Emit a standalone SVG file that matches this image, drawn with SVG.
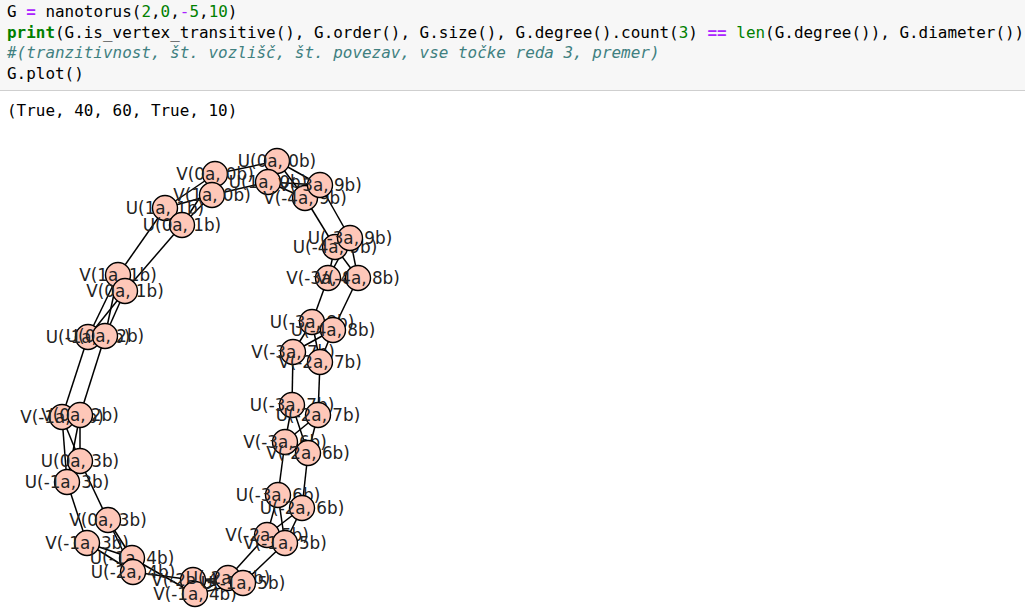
<svg xmlns="http://www.w3.org/2000/svg" width="1025" height="612" viewBox="0 0 1025 612">
<style>
.code{font-family:"DejaVu Sans Mono","Liberation Mono",monospace;font-size:15.95px;fill:#000;white-space:pre}
.k{fill:#008000;font-weight:bold}
.o{fill:#aa22ff;font-weight:bold}
.n{fill:#008000}
.b{fill:#008000}
.c{fill:#408080;font-style:italic}
.edges line{stroke:#000;stroke-width:1.5}
.node circle{fill:#fec7b8;stroke:#000;stroke-width:1.4}
.node text{font-family:"DejaVu Sans",sans-serif;font-size:16.8px;fill:#222;text-anchor:middle}
</style>
<rect x="0" y="0" width="1025" height="612" fill="#fff"/>
<rect x="0" y="0" width="1025" height="90" fill="#f7f7f7"/>
<line x1="0" y1="90.5" x2="1025" y2="90.5" stroke="#cfcfcf" stroke-width="1"/>
<g id="code">
<text class="code" x="7" y="17">G <tspan class="o">=</tspan> nanotorus(<tspan class="n">2</tspan>,<tspan class="n">0</tspan>,<tspan class="o" style="font-weight:normal">-</tspan><tspan class="n">5</tspan>,<tspan class="n">10</tspan>)</text>
<text class="code" x="7" y="38"><tspan class="k">print</tspan>(G.is_vertex_transitive(), G.order(), G.size(), G.degree().count(<tspan class="n">3</tspan>) <tspan class="o">==</tspan> <tspan class="b">len</tspan>(G.degree()), G.diameter())</text>
<text class="code c" x="7" y="58">#(tranzitivnost, št. vozlišč, št. povezav, vse točke reda 3, premer)</text>
<text class="code" x="7" y="79">G.plot()</text>
<text class="code" x="7" y="116">(True, 40, 60, True, 10)</text>
</g>
<g id="connectors" class="edges">
<line x1="277" y1="161" x2="215" y2="174"/>
<line x1="268" y1="182" x2="212" y2="195"/>
<line x1="165" y1="208" x2="118" y2="275"/>
<line x1="182" y1="225" x2="125" y2="291"/>
<line x1="88" y1="337" x2="62" y2="417"/>
<line x1="105" y1="336" x2="80" y2="415"/>
<line x1="80" y1="461" x2="108" y2="520"/>
<line x1="67" y1="482" x2="87" y2="543"/>
<line x1="132" y1="558" x2="195" y2="594"/>
<line x1="133" y1="572" x2="193" y2="580"/>
<line x1="228" y1="578" x2="267" y2="535"/>
<line x1="243" y1="583" x2="285" y2="543"/>
<line x1="278" y1="495" x2="285" y2="442"/>
<line x1="302" y1="508" x2="308" y2="453"/>
<line x1="292" y1="405" x2="293" y2="352"/>
<line x1="318" y1="415" x2="320" y2="362"/>
<line x1="312" y1="322" x2="328" y2="278"/>
<line x1="333" y1="330" x2="358" y2="278"/>
<line x1="335" y1="247" x2="305" y2="198"/>
<line x1="350" y1="238" x2="320" y2="185"/>
<line x1="215" y1="174" x2="165" y2="208"/>
<line x1="215" y1="174" x2="182" y2="225"/>
<line x1="212" y1="195" x2="165" y2="208"/>
<line x1="212" y1="195" x2="182" y2="225"/>
<line x1="118" y1="275" x2="88" y2="337"/>
<line x1="118" y1="275" x2="105" y2="336"/>
<line x1="125" y1="291" x2="88" y2="337"/>
<line x1="125" y1="291" x2="105" y2="336"/>
<line x1="62" y1="417" x2="80" y2="461"/>
<line x1="62" y1="417" x2="67" y2="482"/>
<line x1="80" y1="415" x2="80" y2="461"/>
<line x1="80" y1="415" x2="67" y2="482"/>
<line x1="108" y1="520" x2="132" y2="558"/>
<line x1="108" y1="520" x2="133" y2="572"/>
<line x1="87" y1="543" x2="132" y2="558"/>
<line x1="87" y1="543" x2="133" y2="572"/>
<line x1="193" y1="580" x2="228" y2="578"/>
<line x1="193" y1="580" x2="243" y2="583"/>
<line x1="195" y1="594" x2="228" y2="578"/>
<line x1="195" y1="594" x2="243" y2="583"/>
<line x1="267" y1="535" x2="278" y2="495"/>
<line x1="267" y1="535" x2="302" y2="508"/>
<line x1="285" y1="543" x2="278" y2="495"/>
<line x1="285" y1="543" x2="302" y2="508"/>
<line x1="285" y1="442" x2="292" y2="405"/>
<line x1="285" y1="442" x2="318" y2="415"/>
<line x1="308" y1="453" x2="292" y2="405"/>
<line x1="308" y1="453" x2="318" y2="415"/>
<line x1="293" y1="352" x2="312" y2="322"/>
<line x1="293" y1="352" x2="333" y2="330"/>
<line x1="320" y1="362" x2="312" y2="322"/>
<line x1="320" y1="362" x2="333" y2="330"/>
<line x1="328" y1="278" x2="335" y2="247"/>
<line x1="328" y1="278" x2="350" y2="238"/>
<line x1="358" y1="278" x2="335" y2="247"/>
<line x1="358" y1="278" x2="350" y2="238"/>
<line x1="305" y1="198" x2="277" y2="161"/>
<line x1="305" y1="198" x2="268" y2="182"/>
<line x1="320" y1="185" x2="277" y2="161"/>
<line x1="320" y1="185" x2="268" y2="182"/>
</g>
<g id="n-U0a0b" class="node"><circle cx="277" cy="161" r="12.5"/><text x="277" y="167">U(0a, 0b)</text></g>
<g id="n-U1a0b" class="node"><circle cx="268" cy="182" r="12.5"/><text x="268" y="188">U(1a, 0b)</text></g>
<g id="n-V0a0b" class="node"><circle cx="215" cy="174" r="12.5"/><text x="215" y="180">V(0a, 0b)</text></g>
<g id="n-V1a0b" class="node"><circle cx="212" cy="195" r="12.5"/><text x="212" y="201">V(1a, 0b)</text></g>
<g id="n-U1a1b" class="node"><circle cx="165" cy="208" r="12.5"/><text x="165" y="214">U(1a, 1b)</text></g>
<g id="n-U0a1b" class="node"><circle cx="182" cy="225" r="12.5"/><text x="182" y="231">U(0a, 1b)</text></g>
<g id="n-V1a1b" class="node"><circle cx="118" cy="275" r="12.5"/><text x="118" y="281">V(1a, 1b)</text></g>
<g id="n-V0a1b" class="node"><circle cx="125" cy="291" r="12.5"/><text x="125" y="297">V(0a, 1b)</text></g>
<g id="n-Um1a2b" class="node"><circle cx="88" cy="337" r="12.5"/><text x="88" y="343">U(-1a, 2b)</text></g>
<g id="n-U0a2b" class="node"><circle cx="105" cy="336" r="12.5"/><text x="105" y="342">U(0a, 2b)</text></g>
<g id="n-Vm1a2b" class="node"><circle cx="62" cy="417" r="12.5"/><text x="62" y="423">V(-1a, 2b)</text></g>
<g id="n-V0a2b" class="node"><circle cx="80" cy="415" r="12.5"/><text x="80" y="421">V(0a, 2b)</text></g>
<g id="n-U0a3b" class="node"><circle cx="80" cy="461" r="12.5"/><text x="80" y="467">U(0a, 3b)</text></g>
<g id="n-Um1a3b" class="node"><circle cx="67" cy="482" r="12.5"/><text x="67" y="488">U(-1a, 3b)</text></g>
<g id="n-V0a3b" class="node"><circle cx="108" cy="520" r="12.5"/><text x="108" y="526">V(0a, 3b)</text></g>
<g id="n-Vm1a3b" class="node"><circle cx="87" cy="543" r="12.5"/><text x="87" y="549">V(-1a, 3b)</text></g>
<g id="n-Um1a4b" class="node"><circle cx="132" cy="558" r="12.5"/><text x="132" y="564">U(-1a, 4b)</text></g>
<g id="n-Um2a4b" class="node"><circle cx="133" cy="572" r="12.5"/><text x="133" y="578">U(-2a, 4b)</text></g>
<g id="n-Vm2a4b" class="node"><circle cx="193" cy="580" r="12.5"/><text x="193" y="586">V(-2a, 4b)</text></g>
<g id="n-Vm1a4b" class="node"><circle cx="195" cy="594" r="12.5"/><text x="195" y="600">V(-1a, 4b)</text></g>
<g id="n-Um2a5b" class="node"><circle cx="228" cy="578" r="12.5"/><text x="228" y="584">U(-2a, 5b)</text></g>
<g id="n-Um1a5b" class="node"><circle cx="243" cy="583" r="12.5"/><text x="243" y="589">U(-1a, 5b)</text></g>
<g id="n-Vm2a5b" class="node"><circle cx="267" cy="535" r="12.5"/><text x="267" y="541">V(-2a, 5b)</text></g>
<g id="n-Vm1a5b" class="node"><circle cx="285" cy="543" r="12.5"/><text x="285" y="549">V(-1a, 5b)</text></g>
<g id="n-Um3a6b" class="node"><circle cx="278" cy="495" r="12.5"/><text x="278" y="501">U(-3a, 6b)</text></g>
<g id="n-Um2a6b" class="node"><circle cx="302" cy="508" r="12.5"/><text x="302" y="514">U(-2a, 6b)</text></g>
<g id="n-Vm3a6b" class="node"><circle cx="285" cy="442" r="12.5"/><text x="285" y="448">V(-3a, 6b)</text></g>
<g id="n-Vm2a6b" class="node"><circle cx="308" cy="453" r="12.5"/><text x="308" y="459">V(-2a, 6b)</text></g>
<g id="n-Um3a7b" class="node"><circle cx="292" cy="405" r="12.5"/><text x="292" y="411">U(-3a, 7b)</text></g>
<g id="n-Um2a7b" class="node"><circle cx="318" cy="415" r="12.5"/><text x="318" y="421">U(-2a, 7b)</text></g>
<g id="n-Vm3a7b" class="node"><circle cx="293" cy="352" r="12.5"/><text x="293" y="358">V(-3a, 7b)</text></g>
<g id="n-Vm2a7b" class="node"><circle cx="320" cy="362" r="12.5"/><text x="320" y="368">V(-2a, 7b)</text></g>
<g id="n-Um3a8b" class="node"><circle cx="312" cy="322" r="12.5"/><text x="312" y="328">U(-3a, 8b)</text></g>
<g id="n-Um4a8b" class="node"><circle cx="333" cy="330" r="12.5"/><text x="333" y="336">U(-4a, 8b)</text></g>
<g id="n-Vm3a8b" class="node"><circle cx="328" cy="278" r="12.5"/><text x="328" y="284">V(-3a, 8b)</text></g>
<g id="n-Vm4a8b" class="node"><circle cx="358" cy="278" r="12.5"/><text x="358" y="284">V(-4a, 8b)</text></g>
<g id="n-Um4a9b" class="node"><circle cx="335" cy="247" r="12.5"/><text x="335" y="253">U(-4a, 9b)</text></g>
<g id="n-Um3a9b" class="node"><circle cx="350" cy="238" r="12.5"/><text x="350" y="244">U(-3a, 9b)</text></g>
<g id="n-Vm4a9b" class="node"><circle cx="305" cy="198" r="12.5"/><text x="305" y="204">V(-4a, 9b)</text></g>
<g id="n-Vm3a9b" class="node"><circle cx="320" cy="185" r="12.5"/><text x="320" y="191">V(-3a, 9b)</text></g>
</svg>
